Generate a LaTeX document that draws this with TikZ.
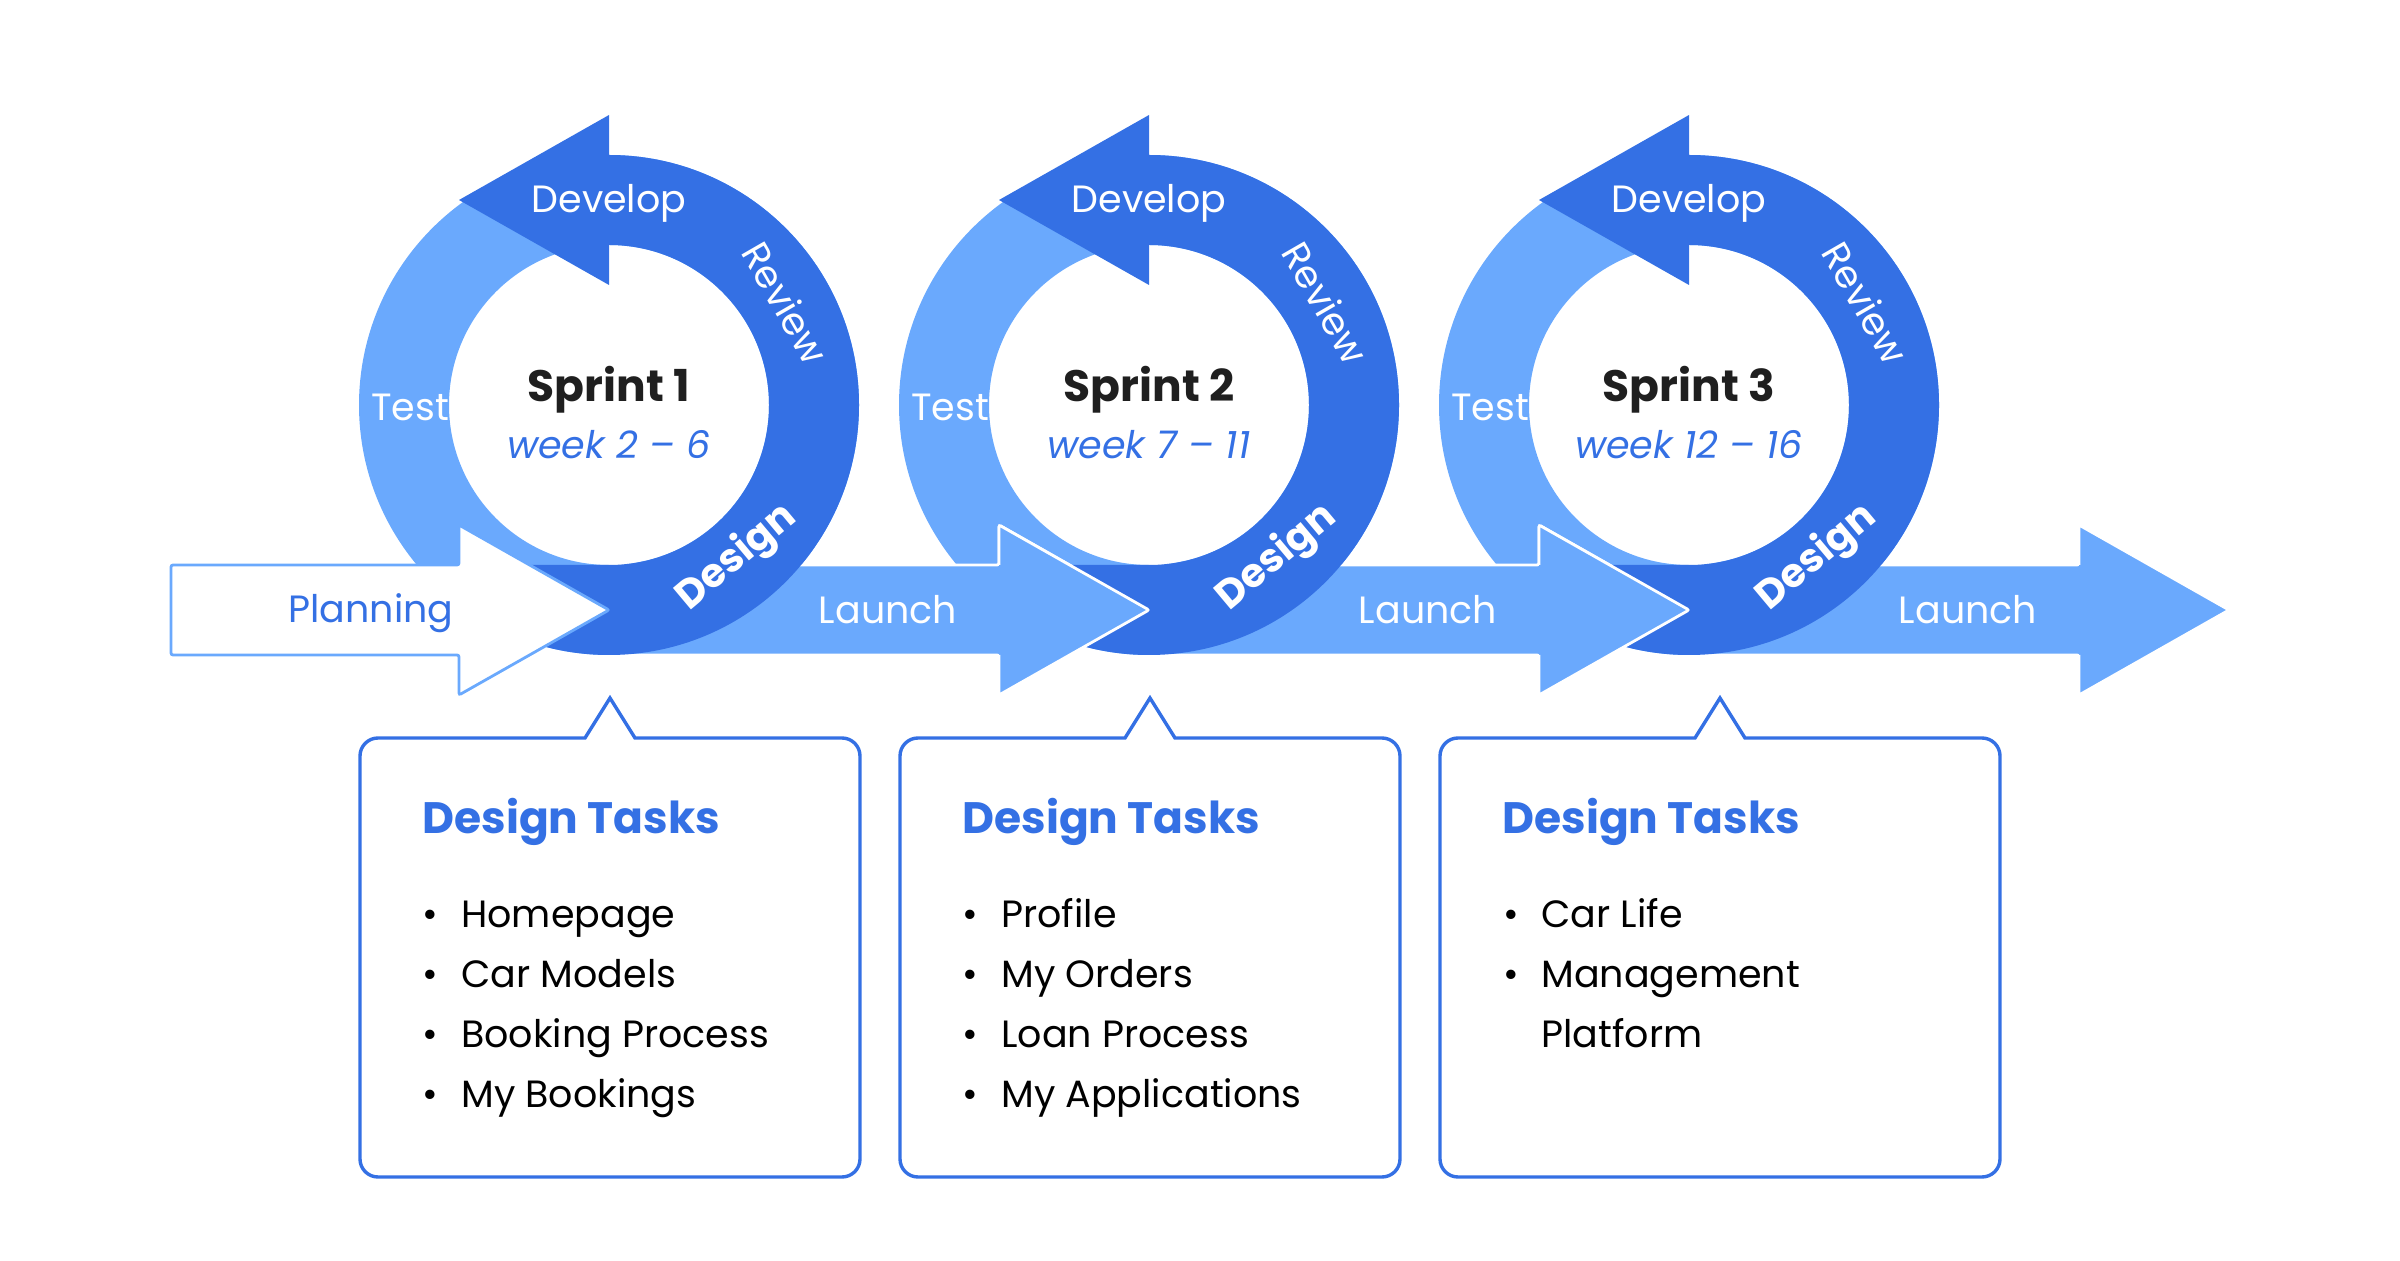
\documentclass[tikz,border=0pt]{standalone}
\usepackage{fontspec}
\setmainfont{Poppins}
\usepackage{tikz}
\usetikzlibrary{calc}
\definecolor{darkc}{HTML}{3470E4}
\definecolor{lightc}{HTML}{6AA9FD}
\definecolor{inkc}{HTML}{1F1F1F}
\tikzset{
  lbl/.style={text=white,inner sep=0pt,font=\fontsize{19}{22}\selectfont},
  arr/.style={fill=lightc,draw=white,line width=1.4pt,rounded corners=1pt},
  card/.style={draw=darkc,line width=1.7pt,fill=white},
  ttl/.style={text=darkc,inner sep=0pt,anchor=base west,font=\bfseries\fontsize{22}{26}\selectfont},
  lst/.style={inner sep=0pt,anchor=base west,font=\fontsize{19}{30}\selectfont}
}
\newcommand{\itm}{\makebox[0pt]{\textbullet}}

\begin{document}
\begin{tikzpicture}[x=0.5pt,y=0.5pt]
\useasboundingbox (0,0) rectangle (2400,1260);
\foreach \i/\x in {1/609,2/1149,3/1689}{\coordinate (s\i) at (\x,855);}
% light rings
\foreach \i in {1,2,3}{\fill[lightc,even odd rule] (s\i) circle (250) (s\i) circle (160);}
% launch arrows
\foreach \i in {1,2,3}{
  \draw[arr] ($(s\i)+(0,-250)$) -- ++(390,0) -- ++(0,-40) -- ++(150,85) -- ++(-150,85) -- ++(0,-40) -- ++(-390,0) -- cycle;
}
% dark arcs with the develop heads
\foreach \i in {1,2,3}{
  \begin{scope}
    \clip ($(s\i)+(0,-300)$) rectangle ++(300,600) ($(s\i)+(-150,-300)$) rectangle ++(150,140);
    \fill[darkc,even odd rule] (s\i) circle (250) (s\i) circle (160);
  \end{scope}
  \fill[darkc] ($(s\i)+(0,120)$) -- ++(-150,85) -- ++(150,85) -- cycle;
}
% heads again, over the next ring
\foreach \i in {1,2,3}{
  \draw[arr] ($(s\i)+(390,-160)$) -- ++(0,40) -- ++(150,-85) -- ++(-150,-85) -- ++(0,40);
}
% planning
\draw[arr,fill=white,draw=lightc] ($(s1)+(-438,-250)$) -- ++(288,0) -- ++(0,-40) -- ++(150,85) -- ++(-150,85) -- ++(0,-40) -- ++(-288,0) -- cycle;
\node[lbl,anchor=base,text=darkc] (plan) at (371,637) {Planning};
% ring texts
\foreach \i/\a/\b in {1/2/6,2/7/11,3/12/16}{
  \node[lbl,anchor=base] (dev\i) at ($(s\i)+(0,192)$) {Develop};
  \node[lbl,rotate=-60] (rev\i) at ($(s\i)+(30:204)$) {Review};
  \node[lbl,anchor=base] (tst\i) at ($(s\i)+(-199,-16)$) {Test};
  \node[lbl,anchor=base,rotate=40,font=\bfseries\fontsize{20}{24}\selectfont] (dsg\i) at ($(s\i)+(-50:210)$) {Design};
  \node[lbl] (lch\i) at ($(s\i)+(279,-205)$) {Launch};
  \node[anchor=base,text=inkc,inner sep=0pt,font=\bfseries\fontsize{22}{26}\selectfont] (spr\i) at ($(s\i)+(0,3)$) {Sprint \i};
  \node[anchor=base,text=darkc,inner sep=0pt,font=\itshape\fontsize{19}{24}\selectfont] (wk\i) at ($(s\i)+(0,-54)$) {week \a{} – \b};
}
% task cards
\foreach \l/\r [count=\k] in {360/860,900/1400,1440/2000}{
  \pgfmathsetmacro{\m}{(\l+\r)/2}
  \draw[card] (\m+25,522) -- (\m,562) -- (\m-25,522) -- (\l+18,522) arc[start angle=90,end angle=180,radius=18]
    -- (\l,101) arc[start angle=180,end angle=270,radius=18] -- (\r-18,83) arc[start angle=270,end angle=360,radius=18]
    -- (\r,504) arc[start angle=0,end angle=90,radius=18] -- cycle;
  \node[ttl] (ttl\k) at (\l+62,426) {Design Tasks};
}
\node[lst] (lst1) at (430,333) {\begin{tabular}[t]{@{}p{15.5pt}@{}l@{}}
  \itm & Homepage\\ \itm & Car Models\\ \itm & Booking Process\\ \itm & My Bookings\end{tabular}};
\node[lst] (lst2) at (970,333) {\begin{tabular}[t]{@{}p{15.5pt}@{}l@{}}
  \itm & Profile\\ \itm & My Orders\\ \itm & Loan Process\\ \itm & My Applications\end{tabular}};
\node[lst] (lst3) at (1511,333) {\begin{tabular}[t]{@{}p{15pt}@{}l@{}}
  \itm & Car Life\\ \itm & Management\\ & Platform\end{tabular}};
\end{tikzpicture}
\end{document}
